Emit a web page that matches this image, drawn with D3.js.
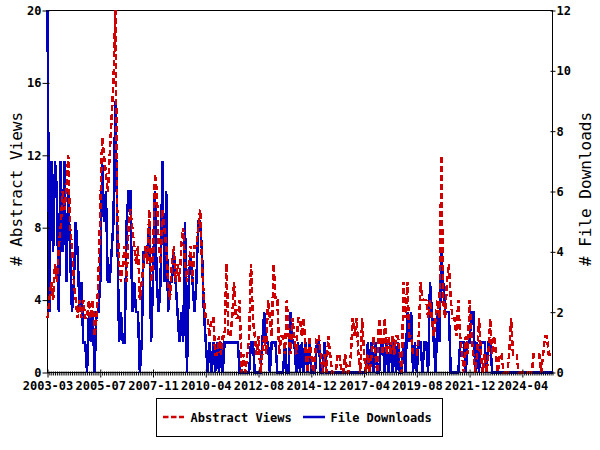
<!DOCTYPE html>
<html><head><meta charset="utf-8">
<script src="https://cdn.jsdelivr.net/npm/d3@7"></script>
<style>body{margin:0;background:#fff}svg{display:block}</style>
</head><body><svg id="c" width="600" height="450"></svg>
<script>
const views=[
3,4,5,4,6,5,7,8,10,9,
10,12,8,7,5,4,3,4,3,4,
3,3,4,3,4,2,3,5,9,13,
12,11,10,12,14,16,20,9,6,5,
6,7,5,8,9,8,7,6,7,4,
5,6,7,6,9,5,6,11,10,7,
6,9,8,7,5,4,6,7,5,6,
5,7,8,6,5,6,7,5,7,7,
8,9,6,4,3,3,2,3,3,1,
1,2,1,2,2,6,2,2,3,5,
3,3,4,0,1,0,1,2,6,3,
2,1,2,0,1,2,1,4,3,2,
6,4,4,1,2,2,1,4,2,1,
3,2,1,3,3,2,3,1,0,2,
1,0,1,2,2,1,0,1,0,2,
1,0,0,0,1,1,0,0,1,0,
0,1,3,2,3,1,0,3,1,0,
1,0,1,2,1,0,3,2,1,3,
1,2,1,2,1,2,2,1,0,5,
3,5,2,2,1,1,1,2,5,4,
4,4,3,4,3,2,3,4,3,12,
4,3,5,6,4,3,3,2,4,2,
1,0,2,1,4,2,1,0,1,3,
1,0,1,0,1,3,1,2,1,0,
1,1,0,0,0,1,3,1,1,1,
0,0,0,0,0,0,0,0,1,1,
1,1,0,1,2,2,1,1,1];
const downloads=[
12,2,7,4,7,6,2,7,4,7,
3,6,4,2,3,5,4,2,3,1,
1,0,2,1,2,0,2,2,3,7,
5,6,3,3,4,5,9,5,1,2,
1,1,5,6,6,2,3,2,2,0,
1,4,4,4,5,1,3,6,3,2,
3,7,3,6,2,3,3,4,3,2,
1,2,1,5,0,3,4,3,2,3,
5,5,4,2,1,0,1,0,1,0,
1,0,1,0,1,1,1,1,1,1,
1,1,0,0,0,0,0,0,1,1,
0,0,0,0,1,2,1,1,0,1,
1,1,0,0,0,0,1,0,0,2,
1,1,0,1,0,1,0,1,0,1,
0,0,0,1,1,0,0,1,0,0,
0,0,0,0,0,0,0,0,0,0,
0,0,0,0,0,0,0,0,0,0,
1,0,1,0,1,0,0,1,1,0,
1,0,1,0,1,0,1,0,0,1,
0,2,1,2,0,1,0,1,1,0,
1,1,0,3,2,1,0,2,1,4,
3,2,2,2,0,0,0,0,0,1,
1,1,0,1,1,2,2,0,1,0,
1,1,1,0,1,1,0,0,0,0,
0,0,0,0,0,0,0,0,0,0,
0,0,0,0,0,0,0,0,0,0,
0,0,0,0,0,0,0,0,0];
const tickLabels=["2003-03","2005-07","2007-11","2010-04","2012-08","2014-12","2017-04","2019-08","2021-12","2024-04"];
const tickEvery=28;
const leftTicks=[0,4,8,12,16,20];
const rightTicks=[0,2,4,6,8,10,12];
const seriesNames=["Abstract Views","File Downloads"];
const leftTitle="# Abstract Views", rightTitle="# File Downloads";

const RED="#d00000", BLUE="#0000c0";
const L=47.5,R=552.5,T=10.5,B=372.5;
const N=views.length;
const svg=d3.select("#c");
const x=d3.scaleLinear().domain([0,N-1]).range([L,R]);
const yL=d3.scaleLinear().domain([0,20]).range([B,T]);
const yR=d3.scaleLinear().domain([0,12]).range([B,T]);
const mono="'DejaVu Sans Mono', monospace";

// frame
svg.append("rect").attr("x",L).attr("y",T).attr("width",R-L).attr("height",B-T)
  .attr("fill","none").attr("stroke","#000").attr("stroke-width",1);

// lines
const idx=d3.range(N);
svg.append("path").datum(idx)
  .attr("d",d3.line().x(i=>x(i)).y(i=>yR(downloads[i])))
  .attr("fill","none").attr("stroke",BLUE).attr("stroke-width",2.5)
  .attr("shape-rendering","crispEdges");
svg.append("path").datum(idx)
  .attr("d",d3.line().x(i=>x(i)).y(i=>yL(views[i])))
  .attr("fill","none").attr("stroke",RED).attr("stroke-width",2.5)
  .attr("stroke-dasharray","6,3").attr("shape-rendering","crispEdges");

// left axis
const gL=svg.append("g").attr("transform",`translate(${L},0)`)
  .call(d3.axisLeft(yL).tickValues(leftTicks).tickSizeInner(5).tickSizeOuter(0).tickPadding(1));
gL.select(".domain").remove();
gL.selectAll(".tick line").attr("x2",-5).attr("x1",2).attr("stroke","#000");
gL.selectAll(".tick text").attr("font-family",mono).attr("font-weight","bold").attr("font-size",12).attr("fill","#000");

// right axis
const gR=svg.append("g").attr("transform",`translate(${R},0)`)
  .call(d3.axisRight(yR).tickValues(rightTicks).tickSizeInner(3).tickSizeOuter(0).tickPadding(1));
gR.select(".domain").remove();
gR.selectAll(".tick line").attr("x1",-2).attr("x2",3).attr("stroke","#000");
gR.selectAll(".tick text").attr("font-family",mono).attr("font-weight","bold").attr("font-size",12).attr("fill","#000");

// bottom axis
const gB=svg.append("g").attr("transform",`translate(0,${B})`)
  .call(d3.axisBottom(x).tickValues(idx).tickSizeInner(3).tickSizeOuter(0).tickPadding(5)
    .tickFormat(i=> i%tickEvery===0 && tickLabels[i/tickEvery] ? tickLabels[i/tickEvery] : ""));
gB.select(".domain").remove();
gB.selectAll(".tick line").attr("stroke","#000").attr("y1",-1).attr("y2",3);
gB.selectAll(".tick").filter(i=>i%tickEvery===0).select("line").attr("y1",-3).attr("y2",5);
gB.selectAll(".tick text").attr("font-family",mono).attr("font-weight","bold").attr("font-size",12).attr("fill","#000")
  .attr("y",9).attr("dy","0.71em");

// axis titles
svg.append("text").attr("transform","translate(21.5,189) rotate(-90)").attr("text-anchor","middle")
  .attr("font-family",mono).attr("font-size",16).attr("fill","#000").text(leftTitle);
svg.append("text").attr("transform","translate(590.5,189) rotate(-90)").attr("text-anchor","middle")
  .attr("font-family",mono).attr("font-size",16).attr("fill","#000").text(rightTitle);

// legend
const lg=svg.append("g");
lg.append("rect").attr("x",156.5).attr("y",398.5).attr("width",286).attr("height",38)
  .attr("fill","none").attr("stroke","#000");
lg.append("line").attr("x1",163).attr("x2",184).attr("y1",417).attr("y2",417)
  .attr("stroke",RED).attr("stroke-width",2.5).attr("stroke-dasharray","5.5,2.5");
lg.append("text").attr("x",190.5).attr("y",421.5).attr("font-family",mono).attr("font-weight","bold")
  .attr("font-size",12).text(seriesNames[0]);
lg.append("line").attr("x1",303).attr("x2",325).attr("y1",417).attr("y2",417)
  .attr("stroke",BLUE).attr("stroke-width",2.5);
lg.append("text").attr("x",330.5).attr("y",421.5).attr("font-family",mono).attr("font-weight","bold")
  .attr("font-size",12).text(seriesNames[1]);
</script></body></html>
